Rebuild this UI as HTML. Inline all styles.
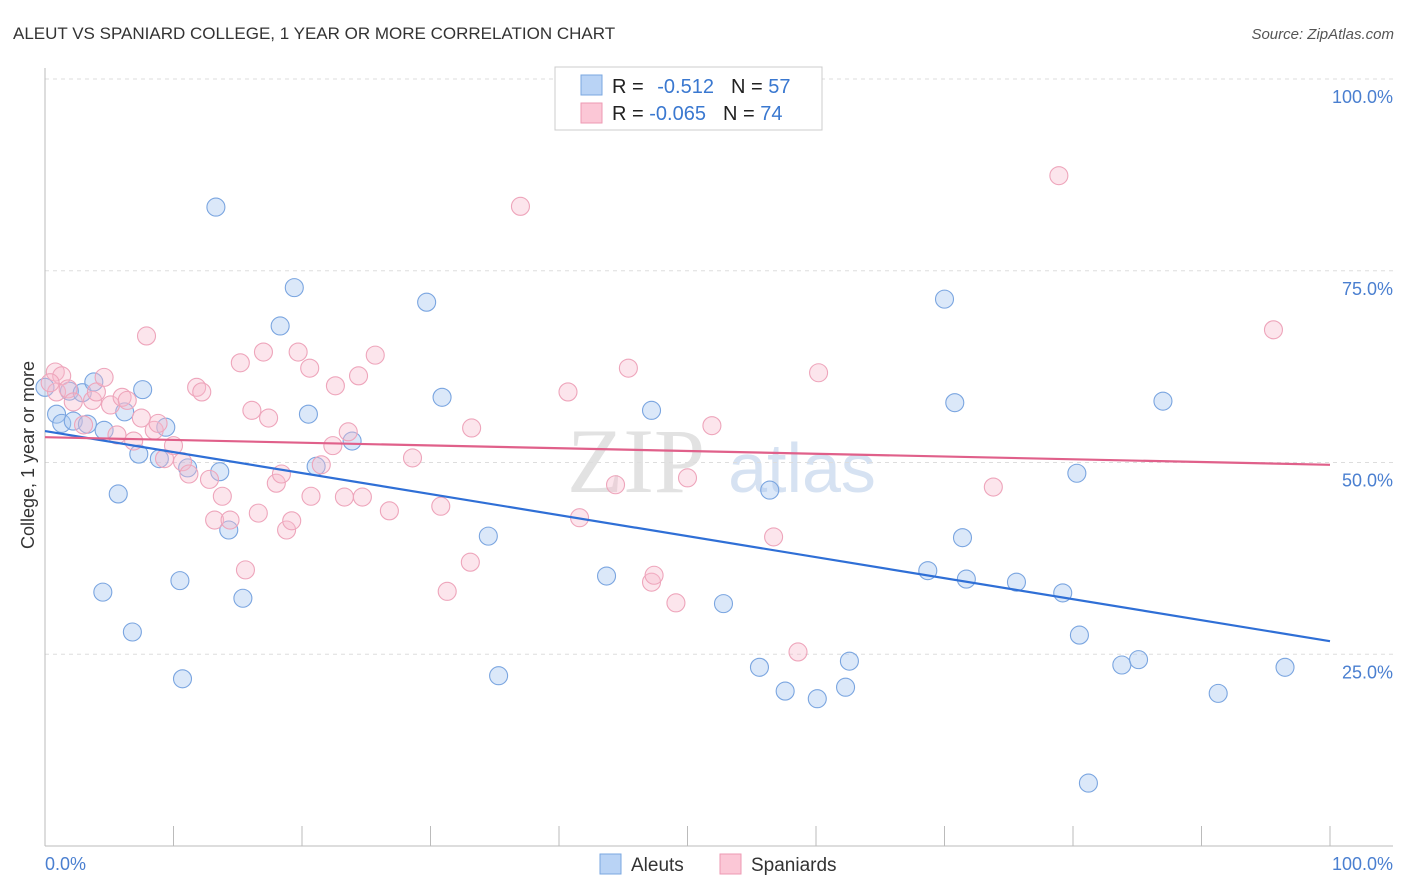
<!DOCTYPE html>
<html><head><meta charset="utf-8"><style>
body{margin:0;background:#fff;width:1406px;height:892px;overflow:hidden;font-family:"Liberation Sans",sans-serif}
svg{display:block}
</style></head><body>
<svg id="chart" width="1406" height="892">
<text x="13" y="39" font-size="17" fill="#333">ALEUT VS SPANIARD COLLEGE, 1 YEAR OR MORE CORRELATION CHART</text>
<text x="1394" y="39" font-size="15" fill="#555" font-style="italic" text-anchor="end">Source: ZipAtlas.com</text>
<text x="636" y="492" font-size="92" fill="#e2e2e2" font-family="Liberation Serif,serif" text-anchor="middle">ZIP</text>
<text x="802" y="492" font-size="70" fill="#d6e2f2" text-anchor="middle">atlas</text>
<g id="grid"></g>
<g id="axes"></g>
<g id="pts"></g>
<g id="lines"></g>
<text x="34" y="455" font-size="18" fill="#333" text-anchor="middle" transform="rotate(-90 34 455)">College, 1 year or more</text>
<g>
<rect x="555" y="67" width="267" height="63" fill="#fff" stroke="#ccc"/>
<rect x="581" y="75" width="21" height="20" fill="#b9d3f5" stroke="#7aa7e0"/>
<rect x="581" y="103" width="21" height="20" fill="#fbc7d6" stroke="#ee9ab3"/>
<text x="612" y="93" font-size="20" fill="#222">R = <tspan fill="#3a78d0" dx="8">-0.512</tspan><tspan dx="17" fill="#222">N = </tspan><tspan fill="#3a78d0">57</tspan></text>
<text x="612" y="120" font-size="20" fill="#222">R = <tspan fill="#3a78d0">-0.065</tspan><tspan dx="17" fill="#222">N = </tspan><tspan fill="#3a78d0">74</tspan></text>
</g>
<g>
<rect x="600" y="854" width="21" height="20" fill="#b9d3f5" stroke="#7aa7e0"/>
<text x="631" y="871" font-size="19" fill="#333">Aleuts</text>
<rect x="720" y="854" width="21" height="20" fill="#fbc7d6" stroke="#ee9ab3"/>
<text x="751" y="871" font-size="19" fill="#333">Spaniards</text>
</g>
</svg>
<script>
const yTicks=[25,50,75,100];
const yTickLabels=["25.0%","50.0%","75.0%","100.0%"];
const xTicks=[0,10,20,30,40,50,60,70,80,90,100];
const aleutX=[0,0.9,1.3,1.9,2.2,2.9,3.3,3.8,4.5,4.6,5.7,6.2,6.8,7.3,7.6,8.9,9.4,10.5,10.7,11.1,13.3,13.6,14.3,15.4,18.3,19.4,20.5,21.1,23.9,29.7,30.9,34.5,35.3,43.7,47.2,52.8,55.6,56.4,57.6,60.1,62.3,62.6,68.7,70.0,70.8,71.4,71.7,75.6,79.2,80.3,80.5,81.2,83.8,85.1,87.0,91.3,96.5];
const aleutY=[59.8,56.3,55.1,59.3,55.4,59.1,55.0,60.5,33.1,54.2,45.9,56.6,27.9,51.1,59.5,50.5,54.6,34.6,21.8,49.3,83.3,48.8,41.2,32.3,67.8,72.8,56.3,49.5,52.8,70.9,58.5,40.4,22.2,35.2,56.8,31.6,23.3,46.4,20.2,19.2,20.7,24.1,35.9,71.3,57.8,40.2,34.8,34.4,33.0,48.6,27.5,8.2,23.6,24.3,58.0,19.9,23.3];
const spanX=[0.8,1.3,0.9,1.8,2.2,3.0,3.7,4.0,4.6,5.1,5.6,6.0,6.4,6.9,7.5,7.9,8.5,8.8,9.3,10.0,10.7,11.2,11.8,12.2,12.8,13.2,13.8,14.4,15.2,15.6,16.1,16.6,17.0,17.4,18.0,18.4,18.8,19.2,19.7,20.6,20.7,21.5,22.4,22.6,23.3,23.6,24.4,24.7,25.7,26.8,28.6,30.8,31.3,33.1,33.2,37.0,40.7,41.6,44.4,45.4,47.2,47.4,49.1,50.0,51.9,56.7,58.6,60.2,73.8,78.9,95.6,0.4];
const spanY=[61.8,61.3,59.2,59.6,57.9,54.9,58.1,59.2,61.1,57.5,53.6,58.5,58.1,52.8,55.8,66.5,54.2,55.1,50.5,52.2,50.1,48.5,59.8,59.2,47.8,42.5,45.6,42.5,63.0,36.0,56.8,43.4,64.4,55.8,47.3,48.5,41.2,42.4,64.4,62.3,45.6,49.7,52.2,60.0,45.5,54.0,61.3,45.5,64.0,43.7,50.6,44.3,33.2,37.0,54.5,83.4,59.2,42.8,47.1,62.3,34.4,35.3,31.7,48.0,54.8,40.3,25.3,61.7,46.8,87.4,67.3,60.4];
const aleutTrend=[54.1,26.7];
const spanTrend=[53.3,49.7];
const NS="http://www.w3.org/2000/svg";
const X=v=>45+v*12.85, Y=v=>846-v*7.67;
function mk(t,a,p){const e=document.createElementNS(NS,t);for(const k in a)e.setAttribute(k,a[k]);document.getElementById(p).appendChild(e);return e;}
yTicks.forEach((t,i)=>{
 const g=mk('line',{x1:45,x2:1393,y1:Y(t),y2:Y(t),stroke:'#ddd','stroke-dasharray':'4,4'},'grid');
 
 
 const l=mk('text',{x:1393,y:Y(t)+24,'font-size':18,fill:'#4a7fd0','text-anchor':'end'},'axes');
 l.textContent=yTickLabels[i];
 
 
});
const ax=mk('line',{x1:45,x2:45,y1:68,y2:846,stroke:'#bbb'},'axes');


const bx=mk('line',{x1:45,x2:1393,y1:846,y2:846,stroke:'#bbb'},'axes');


xTicks.forEach(t=>{
 const k=mk('line',{x1:X(t),x2:X(t),y1:826,y2:846,stroke:'#bbb'},'axes');
 
 
});
const x0=mk('text',{x:45,y:870,'font-size':18,fill:'#4a7fd0'},'axes');x0.textContent='0.0%';


const x1=mk('text',{x:1393,y:870,'font-size':18,fill:'#4a7fd0','text-anchor':'end'},'axes');x1.textContent='100.0%';


aleutX.forEach((v,i)=>{
 const c=mk('circle',{cx:X(v),cy:Y(aleutY[i]),r:9,fill:'rgba(165,198,240,0.4)',stroke:'#7aa5e0','stroke-width':1.1},'pts');
 
 
});
spanX.forEach((v,i)=>{
 const c=mk('circle',{cx:X(v),cy:Y(spanY[i]),r:9,fill:'rgba(248,186,205,0.38)',stroke:'#eea5bb','stroke-width':1.1},'pts');
 
 
});
const la=mk('line',{x1:X(0),x2:X(100),y1:Y(aleutTrend[0]),y2:Y(aleutTrend[1]),stroke:'#2f6fd6','stroke-width':2.2},'lines');


const lb=mk('line',{x1:X(0),x2:X(100),y1:Y(spanTrend[0]),y2:Y(spanTrend[1]),stroke:'#e0608a','stroke-width':2.2},'lines');


</script>
</body></html>
